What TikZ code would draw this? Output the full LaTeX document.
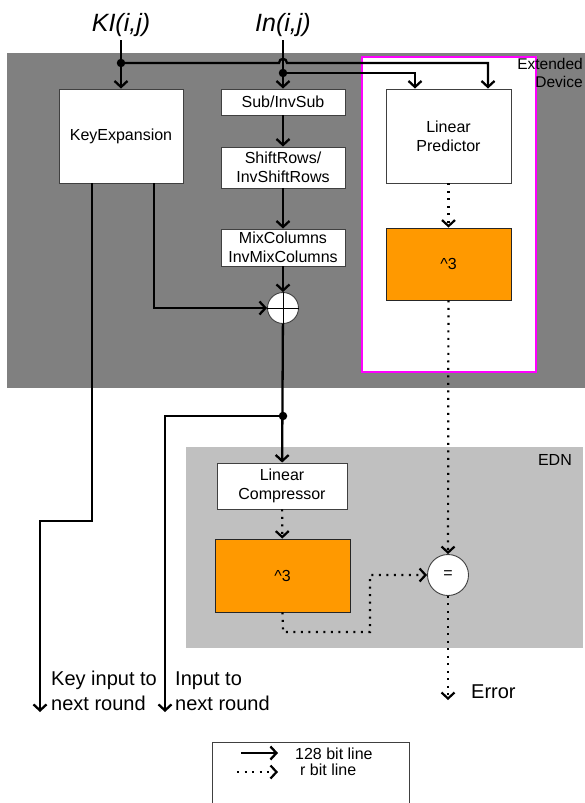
\documentclass[tikz,border=0pt]{standalone}
\usepackage{fontspec}
\setmainfont{Liberation Sans}
\usetikzlibrary{arrows.meta,calc}
\definecolor{dgray}{HTML}{808080}
\definecolor{lgray}{HTML}{C0C0C0}
\definecolor{orng}{HTML}{FF9900}
\definecolor{mag}{HTML}{FF00FF}
\definecolor{bord}{HTML}{404040}
\begin{document}
\begin{tikzpicture}[x=1pt,y=-1pt,
  font=\fontsize{16}{19}\selectfont,
  box/.style={draw=bord, line width=0.9pt, fill=white, inner sep=0pt, align=center},
  obox/.style={draw=black!85, line width=0.9pt, fill=orng, inner sep=0pt, align=center},
  opcirc/.style={circle, draw=bord, line width=0.9pt, fill=white, inner sep=0pt},
  conn/.style={line width=2.3pt, -{Straight Barb[length=6pt,width=13pt]}},
  dconn/.style={line width=2.2pt, dash pattern=on 2pt off 5.5pt, -{Straight Barb[length=6pt,width=13pt]}},
  jdot/.style={circle, fill=black, inner sep=0pt, minimum size=8.5pt},
  lbl/.style={inner sep=0pt}]
\clip (0,0) rectangle (585,803);
\fill[white] (0,0) rectangle (585,803);
% regions
\fill[dgray] (7,53) rectangle (585,388);
\filldraw[fill=white, draw=mag, line width=1.6pt] (362,57) rectangle (536,372);
\fill[lgray] (186,447) rectangle (583,648);
\node[lbl, anchor=east, align=right, font=\fontsize{15.5}{18}\selectfont] (edl) at (583,73) {Extended\\Device};
\node[lbl, anchor=east] (ednl) at (572,460) {EDN};
% inputs
\node[inner sep=3pt, font=\fontsize{25}{30}\selectfont\itshape] (KI) at (121,25.5) {KI(i,j)};
\node[inner sep=3pt, font=\fontsize{25}{30}\selectfont\itshape] (IN) at (283,25.5) {In(i,j)};
% blocks
\node[box, minimum width=124pt, minimum height=94pt] (KE) at (121,136) {KeyExpansion};
\node[box, minimum width=124pt, minimum height=26pt] (SUB) at (283,102) {Sub/InvSub};
\node[box, minimum width=124pt, minimum height=41pt] (SHIFT) at (283,167.5) {ShiftRows/\\InvShiftRows};
\node[box, minimum width=124pt, minimum height=37pt] (MIX) at (283,247.5) {MixColumns\\InvMixColumns};
\node[opcirc, minimum size=31pt] (XOR) at (283,308) {};
\draw[line width=0.9pt, draw=black] (XOR.north) -- (XOR.south) (XOR.west) -- (XOR.east);
\node[box, minimum width=125pt, minimum height=94pt] (LP) at (448.5,136) {Linear\\Predictor};
\node[obox, minimum width=125pt, minimum height=72pt] (O1) at (448.5,264) {\textasciicircum 3};
\node[box, minimum width=130pt, minimum height=46pt] (LC) at (282,486) {Linear\\Compressor};
\node[obox, minimum width=135pt, minimum height=73pt] (O2) at (282.5,575.5) {\textasciicircum 3};
\node[opcirc, minimum size=41pt] (EQ) at (448,575) {=};
% coordinates
\coordinate (j1) at (121,63);
\coordinate (hopL) at (279,63);
\coordinate (hopR) at (287,63);
\coordinate (c1) at (488,63);
\coordinate (j2) at (283,73);
\coordinate (c2) at (415,73);
\coordinate (kx1) at (92,0);
\coordinate (kx2) at (154,0);
\coordinate (kb) at (40,521);
\coordinate (kend) at (40,712);
\coordinate (j3) at (283,416);
\coordinate (iend) at (165,712);
\coordinate (d1) at (283,632);
\coordinate (d2) at (370,632);
\coordinate (errend) at (448,700);
% solid connectors
\draw[conn] (KI) -- (KE);
\draw[conn] (IN) -- (SUB);
\draw[conn] (j1) -- (hopL) .. controls (279,57.5) and (287,57.5) .. (hopR) -- (c1) -- (LP.north -| c1);
\draw[conn] (j2) -- (c2) -- (LP.north -| c2);
\draw[conn] (SUB) -- (SHIFT);
\draw[conn] (SHIFT) -- (MIX);
\draw[conn] (MIX) -- (XOR);
\draw[conn] (KE.south -| kx2) |- (XOR);
\draw[conn] (KE.south -| kx1) |- (kb) -- (kend);
\draw[conn] (XOR) -- (LC);
\draw[conn] (j3) -| (iend);
\node[jdot] at (j1) {};
\node[jdot] at (j2) {};
\node[jdot] at (j3) {};
% dotted connectors
\draw[dconn] (LP) -- (O1);
\draw[dconn] (O1) -- (EQ);
\draw[dconn] (LC) -- (O2);
\draw[dconn] (O2.south) -- (d1) -- (d2) |- (EQ);
\draw[dconn] (EQ) -- (errend);
% output labels
\node[lbl, anchor=west, align=left, font=\fontsize{20}{25}\selectfont] (kil) at (51,691) {Key input to\\next round};
\node[lbl, anchor=west, align=left, font=\fontsize{20}{25}\selectfont] (inl) at (175,691) {Input to\\next round};
\node[lbl, anchor=west, font=\fontsize{20}{24}\selectfont] (errl) at (471,692) {Error};
% legend
\draw[draw=bord, line width=0.9pt] (212,742) rectangle (409,815);
\coordinate (la) at (241,753);
\coordinate (lb) at (278,753);
\coordinate (lc) at (237,772);
\coordinate (ld) at (278,772);
\draw[conn] (la) -- (lb);
\draw[dconn] (lc) -- (ld);
\node[lbl, anchor=west] (l1) at (295,754) {128 bit line};
\node[lbl, anchor=west] (l2) at (300,770) {r bit line};
\end{tikzpicture}
\end{document}
